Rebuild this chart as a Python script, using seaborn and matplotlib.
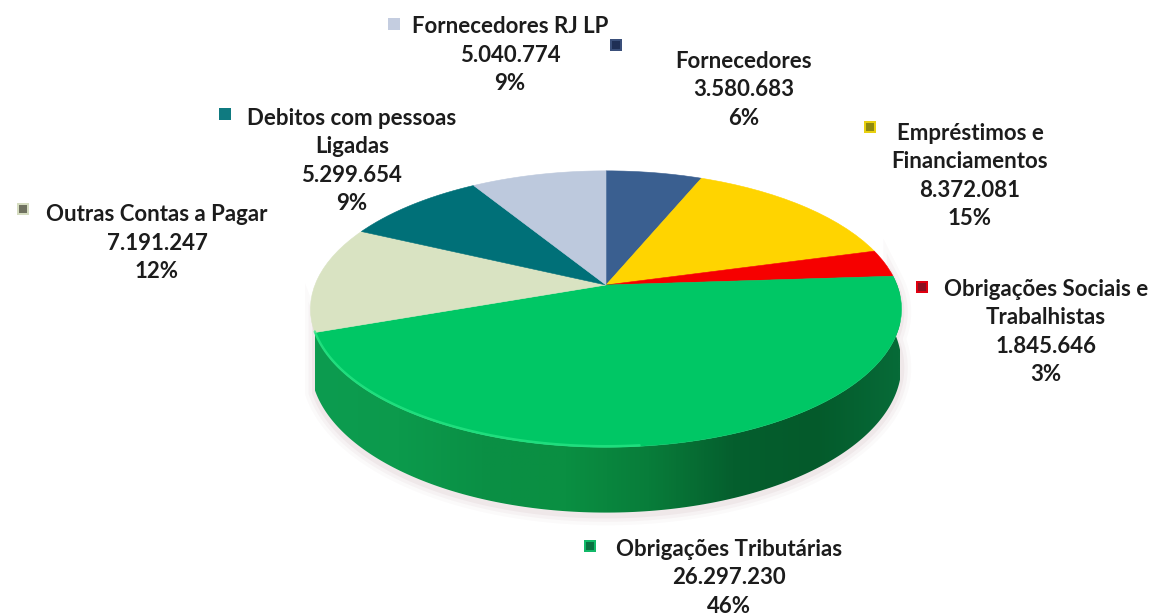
import numpy as np
import seaborn as sns
from matplotlib import pyplot as plt
from matplotlib.colors import LinearSegmentedColormap
from matplotlib.patches import Polygon
from matplotlib.transforms import Affine2D

# fatias no sentido horario a partir do topo
names = ["Fornecedores", "Empréstimos e\nFinanciamentos", "Obrigações Sociais e\nTrabalhistas",
         "Obrigações Tributárias", "Outras Contas a Pagar", "Debitos com pessoas\nLigadas",
         "Fornecedores RJ LP"]
values = [3580683, 8372081, 1845646, 26297230, 7191247, 5299654, 5040774]
colors = ["#3a5f90", "#ffd400", "#f60000", "#00c765", "#d9e3c2", "#007078", "#bdc9dd"]
marker_edge = ["#3a4f7a", "#e8d010", "#e00010", "#12b868", "#d5dcc0", "#0f7a80", "#c4cde0"]
marker_core = ["#1f2f55", "#8f8a10", "#8a1020", "#0a7040", "#707260", "#0f7a80", "#c4cde0"]

# centro do texto e posicao do quadradinho, em pixels da imagem
label_xy = [(744, 90), (970, 176), (1046, 332), (729, 578), (157, 243), (352, 161), (510, 55)]
marker_xy = [(616, 45), (870, 127), (922, 287), (590, 546), (23, 209), (225, 114), (394, 24)]

side_stops = ["#0d9c50", "#0c9a4c", "#0a9045", "#0a8f42", "#087d3a", "#055f2e", "#045a2b", "#076b38"]

CX, CY = 606, 285
RX, KY, TILT = 291, 134, 0.174
DEPTH = 54


def project(xy, depth=0):
    # perspectiva simples: o fundo do disco fica mais largo
    x, y = xy[:, 0], xy[:, 1]
    s = 1 / (1 + TILT * y)
    return np.column_stack([CX + RX * x * s, CY - KY * y * s + depth * s])


sns.set_theme(style="white")
plt.rcParams["font.family"] = ["Lato", "DejaVu Sans"]

fig = plt.figure(figsize=(11.53, 6.16), dpi=100)
ax = fig.add_axes([0, 0, 1, 1])

wedges, _ = ax.pie(values, startangle=90, counterclock=False, colors=sns.color_palette(colors))

shapes = []
for w in wedges:
    verts = w.get_path().to_polygons(transform=Affine2D().scale(400))[0] / 400
    shapes.append(verts)
    w.set_visible(False)

ax.set_aspect("auto")
ax.axis("off")

# lateral: so a fatia verde aparece na frente
green = int(np.argmax(values))
theta1, theta2 = wedges[green].theta1, wedges[green].theta2
t = np.radians(np.linspace(theta1, theta2, 200))
rim = np.column_stack([np.cos(t), np.sin(t)])
top_rim = project(rim)
low_rim = project(rim, DEPTH)
side_xy = np.vstack([top_rim, low_rim[::-1]])

for lw, a in [(14, 0.025), (9, 0.035), (4, 0.05)]:
    ax.add_patch(Polygon(side_xy + [0, 3], closed=True, fc="none", ec="#703040", lw=lw, alpha=a, zorder=1))

side = Polygon(side_xy, closed=True, fc="none", ec="none", zorder=2)
ax.add_patch(side)
cmap = LinearSegmentedColormap.from_list("side", side_stops)
grad = ax.imshow(np.linspace(0, 1, 512)[None, :], cmap=cmap, aspect="auto", zorder=2,
                 extent=(315, 900, 520, 270))
grad.set_clip_path(side)
ax.set_xlim(0, 1153)
ax.set_ylim(616, 0)

# tampo
for verts, c in zip(shapes, colors):
    ax.add_patch(Polygon(project(verts), closed=True, fc=c, ec=c, lw=0.4, zorder=3))

# brilho na borda da frente
lit = top_rim[top_rim[:, 0] < 640]
ax.plot(lit[:, 0], lit[:, 1] - 1, color="#2be887", lw=1.8, alpha=0.7, zorder=4, solid_capstyle="round")

total = sum(values)
for name, v, (lx, ly) in zip(names, values, label_xy):
    value_txt = f"{v:,}".replace(",", ".")
    pct_txt = f"{v / total:.0%}"
    ax.text(lx, ly, f"{name}\n{value_txt}\n{pct_txt}", ha="center", va="center", multialignment="center",
            fontsize=16, fontweight="bold", color="#1c1c1c", linespacing=1.42, zorder=5)

mx, my = zip(*marker_xy)
ax.scatter(mx, my, marker="s", s=85, c=marker_edge, linewidths=0, zorder=5)
ax.scatter(mx, my, marker="s", s=32, c=marker_core, linewidths=0, zorder=6)

fig.savefig("out.png", dpi=100, facecolor="white")
plt.close(fig)
